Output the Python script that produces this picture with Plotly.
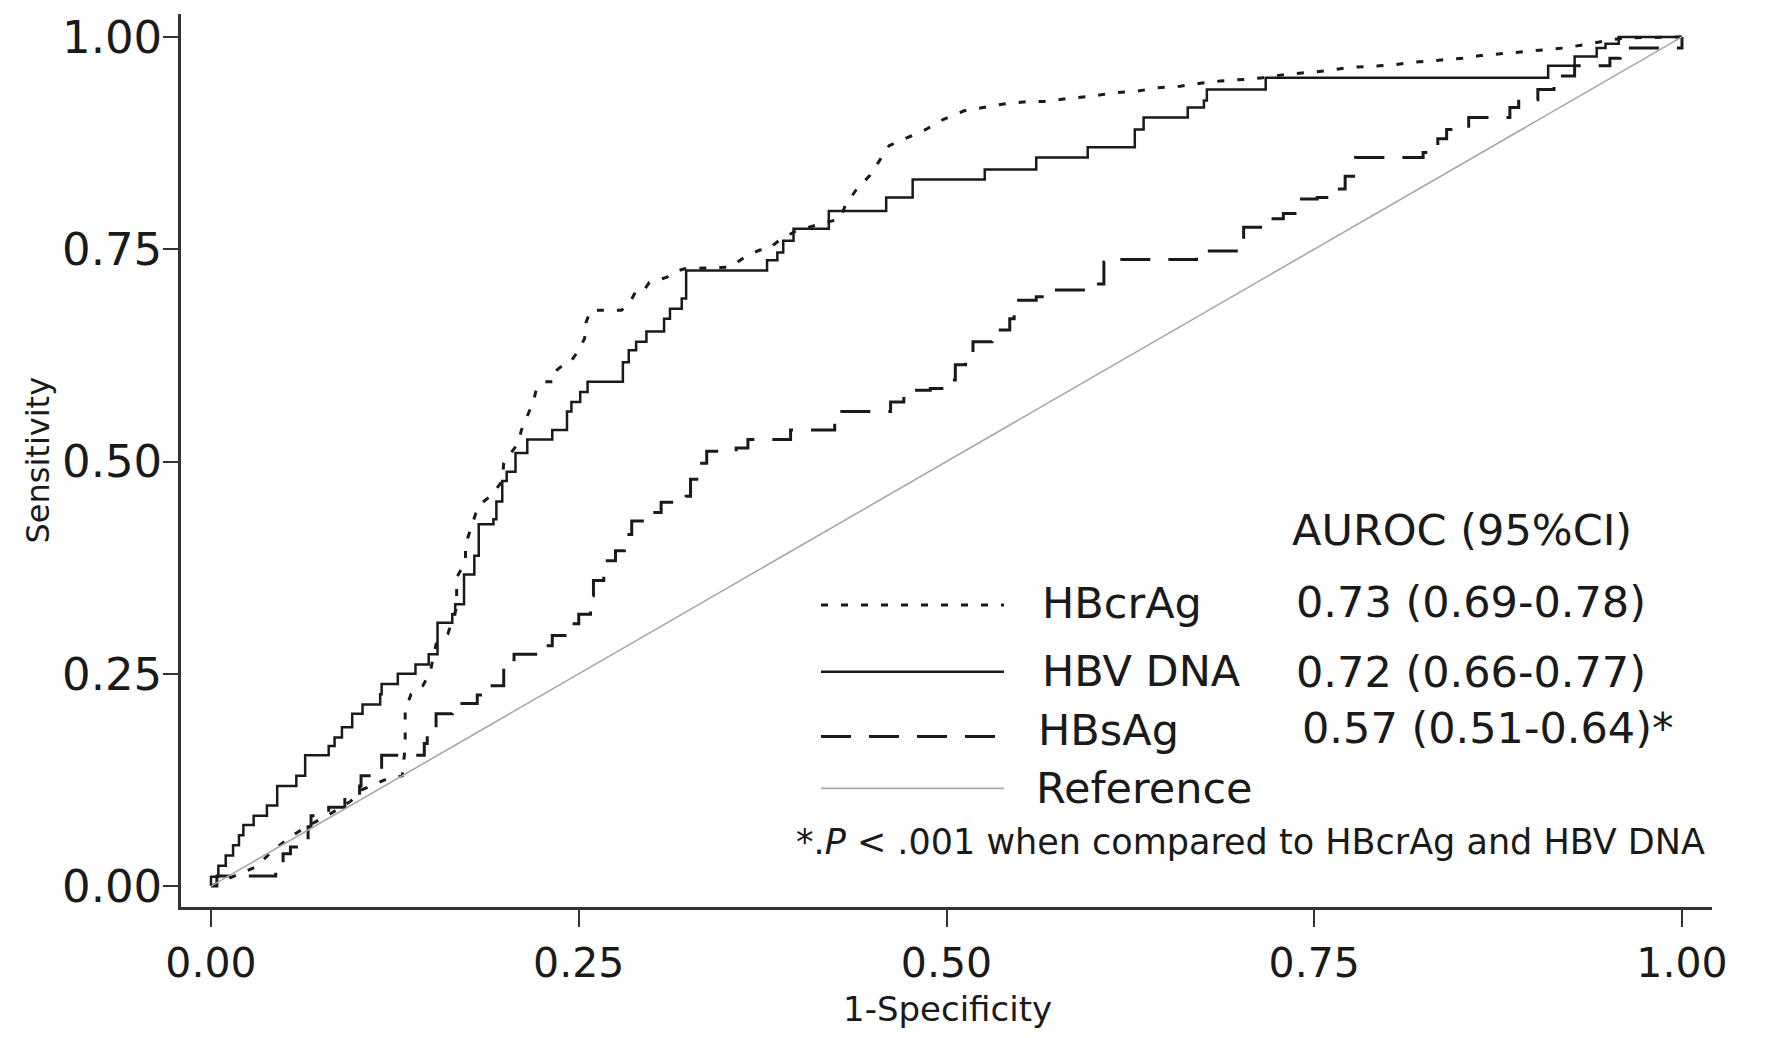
import plotly.graph_objects as go

# ---------------- data ----------------
tick_vals = [0.0, 0.25, 0.5, 0.75, 1.0]
tick_text = ["0.00", "0.25", "0.50", "0.75", "1.00"]

series_names = ["HBcrAg", "HBV DNA", "HBsAg", "Reference"]
auroc_text = ["0.73 (0.69-0.78)", "0.72 (0.66-0.77)", "0.57 (0.51-0.64)*"]

hbcrag_roc = [
    (0.000, 0.000), (0.031, 0.023), (0.042, 0.042), (0.054, 0.058), (0.064, 0.069),
    (0.081, 0.085), (0.095, 0.100), (0.102, 0.113), (0.118, 0.125), (0.130, 0.130),
    (0.132, 0.164), (0.132, 0.207), (0.136, 0.226), (0.144, 0.236), (0.149, 0.252),
    (0.153, 0.285), (0.161, 0.297), (0.167, 0.328), (0.167, 0.363), (0.173, 0.383),
    (0.173, 0.402), (0.177, 0.422), (0.180, 0.439), (0.184, 0.451), (0.191, 0.461),
    (0.198, 0.477), (0.199, 0.498), (0.203, 0.508), (0.209, 0.522), (0.211, 0.537),
    (0.215, 0.553), (0.219, 0.570), (0.221, 0.584), (0.227, 0.594), (0.233, 0.594),
    (0.234, 0.606), (0.243, 0.619), (0.245, 0.619), (0.250, 0.631), (0.254, 0.645),
    (0.255, 0.664), (0.258, 0.678), (0.279, 0.678), (0.285, 0.688), (0.289, 0.701),
    (0.294, 0.701), (0.298, 0.711), (0.310, 0.717), (0.314, 0.723), (0.322, 0.727),
    (0.353, 0.729), (0.363, 0.741), (0.373, 0.749), (0.378, 0.749), (0.386, 0.760),
    (0.398, 0.772), (0.415, 0.780), (0.428, 0.786), (0.431, 0.801), (0.439, 0.821),
    (0.448, 0.837), (0.455, 0.856), (0.461, 0.872), (0.473, 0.881), (0.486, 0.891),
    (0.498, 0.903), (0.512, 0.913), (0.525, 0.917), (0.539, 0.921), (0.555, 0.924),
    (0.568, 0.924), (0.584, 0.928), (0.598, 0.930), (0.613, 0.934), (0.629, 0.936),
    (0.643, 0.940), (0.659, 0.942), (0.675, 0.946), (0.686, 0.948), (0.702, 0.950),
    (0.715, 0.952), (0.731, 0.956), (0.745, 0.958), (0.758, 0.960), (0.774, 0.964),
    (0.789, 0.966), (0.803, 0.967), (0.817, 0.970), (0.833, 0.972), (0.851, 0.975),
    (0.863, 0.978), (0.876, 0.980), (0.890, 0.983), (0.906, 0.985), (0.920, 0.987),
    (0.934, 0.991), (0.953, 0.997), (0.965, 0.999), (1.000, 1.000),
]

hbv_dna_roc = [
    (0.000, 0.000), (0.000, 0.011), (0.005, 0.024), (0.010, 0.036), (0.015, 0.048),
    (0.019, 0.060), (0.022, 0.072), (0.029, 0.083), (0.038, 0.095), (0.045, 0.118),
    (0.058, 0.130), (0.064, 0.154), (0.080, 0.165), (0.084, 0.175), (0.089, 0.187),
    (0.096, 0.203), (0.103, 0.214), (0.115, 0.226), (0.116, 0.238), (0.127, 0.250),
    (0.139, 0.261), (0.148, 0.273), (0.154, 0.310), (0.164, 0.320), (0.166, 0.332),
    (0.172, 0.367), (0.179, 0.389), (0.182, 0.426), (0.192, 0.432), (0.194, 0.453),
    (0.198, 0.477), (0.201, 0.488), (0.207, 0.510), (0.215, 0.526), (0.232, 0.537),
    (0.242, 0.559), (0.245, 0.570), (0.251, 0.582), (0.256, 0.594), (0.280, 0.617),
    (0.284, 0.631), (0.289, 0.641), (0.296, 0.653), (0.308, 0.668), (0.312, 0.680),
    (0.320, 0.692), (0.323, 0.725), (0.378, 0.737), (0.385, 0.746), (0.389, 0.760),
    (0.396, 0.774), (0.420, 0.795), (0.459, 0.811), (0.477, 0.832), (0.526, 0.844),
    (0.561, 0.858), (0.596, 0.870), (0.628, 0.891), (0.634, 0.905), (0.664, 0.917),
    (0.675, 0.925), (0.677, 0.938), (0.717, 0.952), (0.909, 0.966), (0.927, 0.977),
    (0.942, 0.987), (0.948, 0.992), (0.957, 1.000), (1.000, 1.000),
]

hbsag_roc = [
    (0.000, 0.000), (0.004, 0.012), (0.044, 0.023), (0.049, 0.038), (0.054, 0.046),
    (0.061, 0.054), (0.066, 0.070), (0.068, 0.083), (0.080, 0.093), (0.091, 0.107),
    (0.101, 0.118), (0.102, 0.130), (0.116, 0.154), (0.145, 0.168), (0.147, 0.187),
    (0.153, 0.203), (0.164, 0.215), (0.181, 0.225), (0.185, 0.236), (0.199, 0.262),
    (0.206, 0.273), (0.228, 0.283), (0.232, 0.295), (0.243, 0.309), (0.250, 0.320),
    (0.258, 0.342), (0.260, 0.360), (0.267, 0.383), (0.275, 0.395), (0.281, 0.414),
    (0.286, 0.430), (0.300, 0.440), (0.306, 0.452), (0.323, 0.459), (0.326, 0.479),
    (0.332, 0.498), (0.337, 0.512), (0.357, 0.516), (0.365, 0.526), (0.394, 0.537),
    (0.424, 0.559), (0.462, 0.570), (0.471, 0.584), (0.489, 0.586), (0.499, 0.596),
    (0.506, 0.614), (0.513, 0.627), (0.518, 0.641), (0.531, 0.655), (0.543, 0.668),
    (0.546, 0.690), (0.561, 0.694), (0.570, 0.702), (0.602, 0.709), (0.607, 0.735),
    (0.618, 0.738), (0.670, 0.748), (0.697, 0.762), (0.702, 0.776), (0.718, 0.786),
    (0.729, 0.792), (0.739, 0.809), (0.752, 0.811), (0.765, 0.821), (0.771, 0.836),
    (0.778, 0.858), (0.824, 0.864), (0.834, 0.880), (0.840, 0.891), (0.855, 0.905),
    (0.883, 0.917), (0.889, 0.926), (0.902, 0.938), (0.913, 0.954), (0.927, 0.966),
    (0.951, 0.975), (0.958, 0.987), (1.000, 1.000),
]

reference_roc = [(0.0, 0.0), (1.0, 1.0)]

# ---------------- styles ----------------
FONT = "DejaVu Sans"
TXT = "#1a1a1a"
AX = "#333333"
styles = {
    "HBcrAg": dict(color="#1a1a1a", width=3, dash="7px,13px"),
    "HBV DNA": dict(color="#1a1a1a", width=2.5, dash="solid"),
    "HBsAg": dict(color="#1a1a1a", width=3, dash="30px,18px"),
    "Reference": dict(color="#a8a8a8", width=1.6, dash="solid"),
}
line_shapes = {"HBcrAg": "linear", "HBV DNA": "hv", "HBsAg": "hv", "Reference": "linear"}

fig = go.Figure()
for name, roc in zip(series_names, [hbcrag_roc, hbv_dna_roc, hbsag_roc, reference_roc]):
    fig.add_trace(go.Scatter(
        x=[p[0] for p in roc], y=[p[1] for p in roc], mode="lines", name=name,
        line=dict(shape=line_shapes[name], **styles[name]), showlegend=False,
        hoverinfo="skip"))

# plot area in pixels: x 181..1712, y 11..907
W, H = 1778, 1038
L, R, T, B = 181, 1712, 11, 907


def px(X):
    return (X - L) / (R - L)


def py(Y):
    return (B - Y) / (B - T)


shapes = []
annotations = []
leg_y = [604, 671, 736, 788]
lab_y = [602, 670, 729, 788]
lab_x = [1040, 1040, 1036, 1034]
for i, name in enumerate(series_names):
    st = styles[name]
    shapes.append(dict(type="line", xref="paper", yref="paper",
                       x0=px(821), x1=px(1004), y0=py(leg_y[i]), y1=py(leg_y[i]),
                       line=dict(color=st["color"], width=st["width"], dash=st["dash"])))
    annotations.append(dict(text=name, xref="paper", yref="paper", x=px(lab_x[i]), y=py(lab_y[i]),
                            xanchor="left", yanchor="middle", showarrow=False,
                            font=dict(family=FONT, size=43, color=TXT)))

annotations.append(dict(text="AUROC (95%CI)", xref="paper", yref="paper", x=px(1290), y=py(529),
                        xanchor="left", yanchor="middle", showarrow=False,
                        font=dict(family=FONT, size=43, color=TXT)))
auc_x = [1294, 1294, 1300]
auc_y = [601, 671, 727]
for i, t in enumerate(auroc_text):
    annotations.append(dict(text=t, xref="paper", yref="paper", x=px(auc_x[i]), y=py(auc_y[i]),
                            xanchor="left", yanchor="middle", showarrow=False,
                            font=dict(family=FONT, size=43, color=TXT)))

annotations.append(dict(text="*.<i>P</i> < .001 when compared to HBcrAg and HBV DNA",
                        xref="paper", yref="paper", x=px(794), y=py(842),
                        xanchor="left", yanchor="middle", showarrow=False,
                        font=dict(family=FONT, size=35, color=TXT)))

annotations.append(dict(text="Sensitivity", xref="paper", yref="paper", x=px(37), y=py(459),
                        xanchor="center", yanchor="middle", textangle=-90, showarrow=False,
                        font=dict(family=FONT, size=32, color=TXT)))
annotations.append(dict(text="1-Specificity", xref="paper", yref="paper", x=px(947), y=py(1009),
                        xanchor="center", yanchor="middle", showarrow=False,
                        font=dict(family=FONT, size=34, color=TXT)))

axis_common = dict(showline=True, linecolor=AX, linewidth=2.5, ticks="outside", tickwidth=2,
                   tickcolor=AX, tickvals=tick_vals, ticktext=tick_text, showgrid=False,
                   zeroline=False, mirror=False)

fig.update_layout(
    width=W, height=H,
    margin=dict(l=L, r=W - R, t=T, b=H - B, pad=0),
    paper_bgcolor="white", plot_bgcolor="white",
    xaxis=dict(range=[-0.0204, 1.0204], ticklen=17, ticklabelstandoff=1,
               tickfont=dict(family=FONT, size=41, color=TXT), **axis_common),
    yaxis=dict(range=[-0.0246, 1.027], ticklen=15, ticklabelstandoff=-8,
               tickfont=dict(family=FONT, size=45, color=TXT), **axis_common),
    shapes=shapes, annotations=annotations,
    showlegend=False,
)

fig.write_html("out.html")
